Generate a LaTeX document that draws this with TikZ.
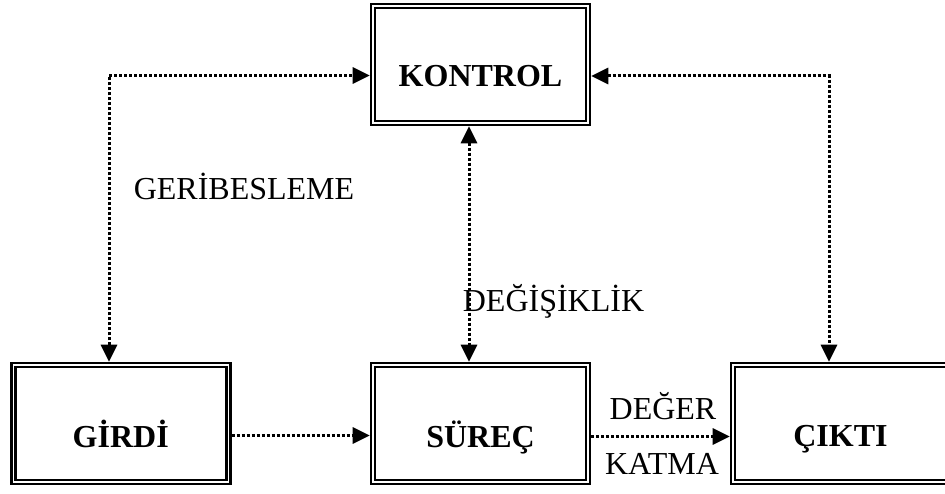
\documentclass[tikz,border=0pt]{standalone}
\usepackage{fontspec}
\setmainfont{Liberation Serif}
\usetikzlibrary{arrows.meta}

\tikzset{
  stage/.style={draw, line width=2.6pt, double, double distance=1.4pt,
    minimum width=215pt, minimum height=117pt, inner sep=0pt, outer sep=3.3pt},
  stagetext/.style={anchor=base, font=\fontsize{32}{36}\selectfont\bfseries, inner sep=0pt},
  flowlabel/.style={anchor=base, font=\fontsize{32}{36}\selectfont, inner sep=0pt},
  tip/.tip={Triangle[length=17pt,width=16pt]},
  flow/.style={line width=3pt, dash pattern=on 3pt off 2pt, -tip},
  twoway/.style={flow, tip-tip}
}

\begin{document}
\begin{tikzpicture}[x=1pt,y=-1pt]
\useasboundingbox (0,0) rectangle (945,494);

% process stages
\node[stage] (kontrol) at (480.5,64.5) {};
\node[stage] (girdi)   at (120.75,423.5) {};
\node[stage] (surec)   at (480.5,423.5) {};
\node[stage] (cikti)   at (840.5,423.5) {};

\node[stagetext] (tkontrol) at (480.5,87) {KONTROL};
\node[stagetext] (tgirdi)   at (120.75,447) {GİRDİ};
\node[stagetext] (tsurec)   at (480.5,447) {SÜREÇ};
\node[stagetext] (tcikti)   at (840.5,446) {ÇIKTI};

% corner points of the feedback paths
\coordinate (lc) at (109,75.5);
\coordinate (rc) at (829,76);

% feedback loops to the control stage
\draw[twoway] (girdi.north -| lc) -- (lc) -- (kontrol.west |- lc);
\draw[twoway] (kontrol.east |- rc) -- (rc) -- (cikti.north -| rc);
\draw[twoway] (kontrol.south -| 469,0) -- (surec.north -| 469,0);

% main flow
\draw[flow] (girdi.east |- 0,435.5) -- (surec.west |- 0,435.5);
\draw[flow] (surec.east |- 0,436.5) -- (cikti.west |- 0,436.5);

% labels
\node[flowlabel] (lgeri)  at (244,200) {GERİBESLEME};
\node[flowlabel] (ldegis) at (553.5,312) {DEĞİŞİKLİK};
\node[flowlabel] (ldeger) at (663,419) {DEĞER};
\node[flowlabel] (lkatma) at (662,474) {KATMA};
\end{tikzpicture}
\end{document}
